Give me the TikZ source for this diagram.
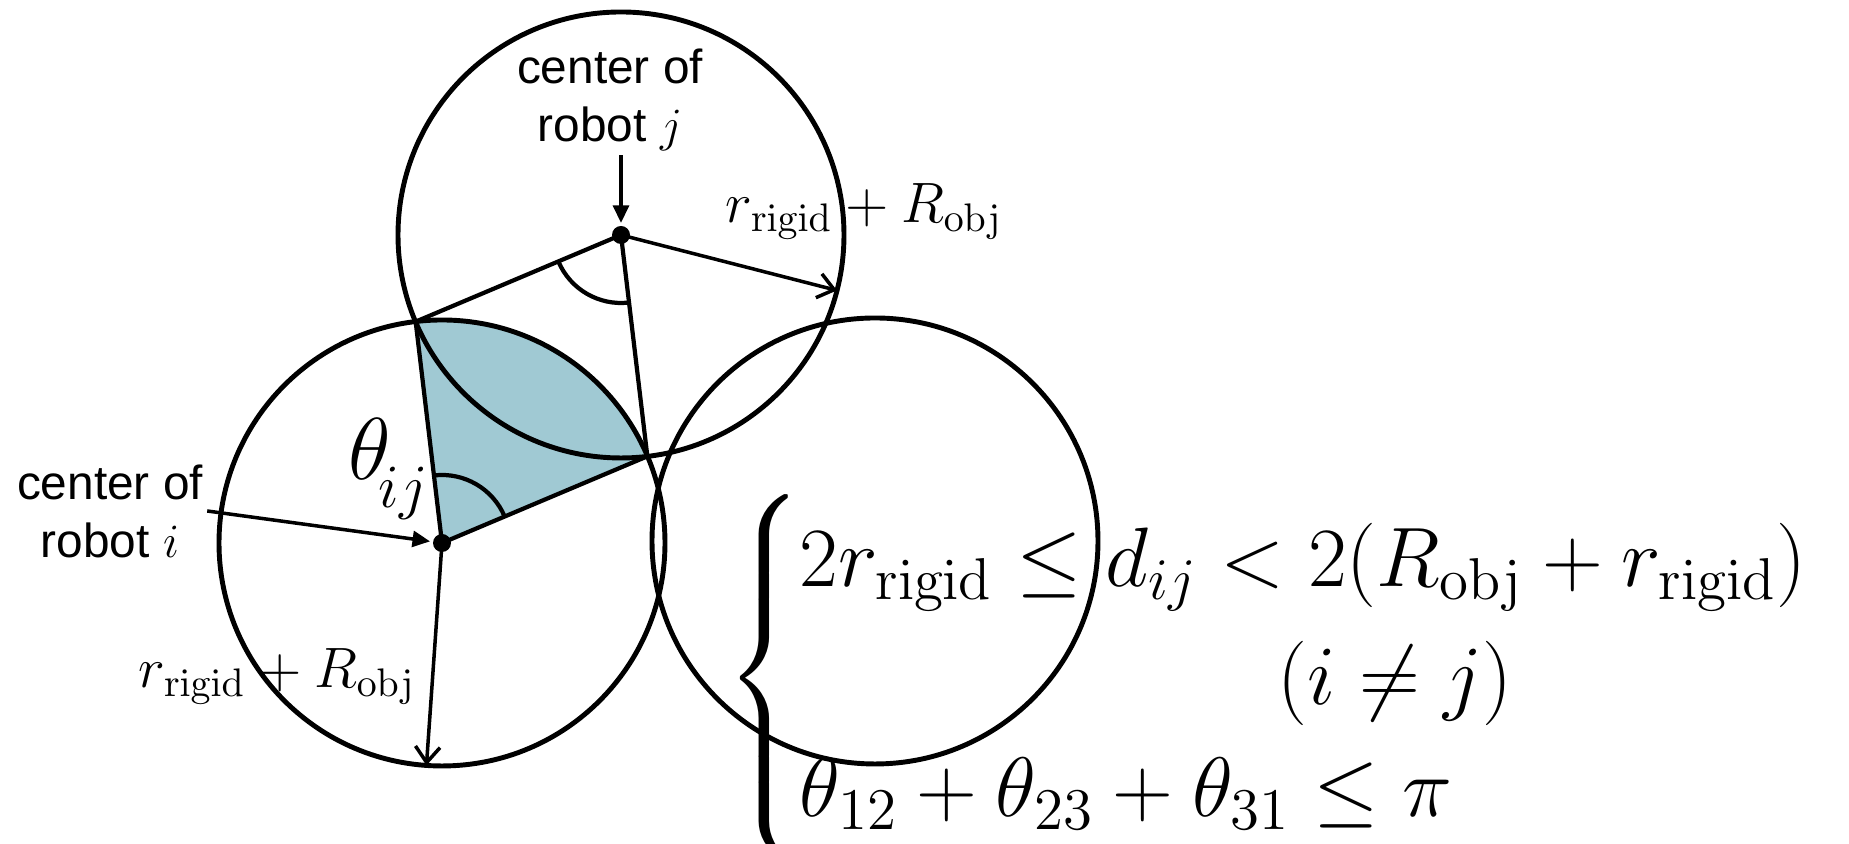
\documentclass[tikz,border=0pt]{standalone}
\usepackage{fix-cm}
\usepackage{amsmath,amssymb}
\usepackage{exscale}
\usepackage[no-math]{fontspec}
\newfontfamily\labelfont{Liberation Sans}
\usepackage{xcolor}
\usetikzlibrary{arrows.meta,positioning,calc,angles}
\definecolor{sector}{RGB}{160,201,211}

\begin{document}
\begin{tikzpicture}[>=Stealth,
  robot/.style={line width=1.4pt},
  pointer/.style={-{Triangle[length=5pt,width=4.5pt]}, line width=1pt},
  reach/.style={-{Straight Barb[length=4.5pt,width=7pt]}, line width=1pt},
  tag/.style={font=\labelfont\fontsize{13.6}{16.5}\selectfont, align=center, inner sep=1pt},
  len/.style={font=\fontsize{16.2}{19}\selectfont, inner sep=0pt},
  cond/.style={font=\fontsize{24}{29}\selectfont, inner sep=0pt}]
\useasboundingbox (0,0) rectangle (18.49,8.44);
\clip (0,0) rectangle (18.49,8.44);

% Robot centres
\coordinate (ci) at (4.42,3.01);
\coordinate (cj) at (6.21,6.09);
\coordinate (ck) at (8.75,3.03);

% Where circles i and j cross
\coordinate (mij) at ($(ci)!0.5!(cj)$);
\coordinate (pa) at ($(mij)!1.34cm!90:(cj)$);
\coordinate (pb) at ($(mij)!1.34cm!-90:(cj)$);

% Shaded sector of robot i
\begin{scope}
\clip (ci) -- ($(ci)!3!(pa)$) -- ($(ci)!3!(pb)$) -- cycle;
\fill[sector] (ci) circle (2.23);
\end{scope}

% Circles
\draw[robot] (ci) circle (2.23);
\draw[robot] (cj) circle (2.23);
\draw[robot] (ck) circle (2.23);

% Rhombus and angles
\draw[line width=1.2pt] (pa) -- (cj) -- (pb) -- (ci) -- cycle;
\pic[draw, line width=1.2pt, angle radius=0.68cm] {angle=pa--cj--pb};
\pic[draw, line width=1.2pt, angle radius=0.68cm] {angle=pb--ci--pa};

% Centre dots
\fill (ci) circle (0.09);
\fill (cj) circle (0.09);

% Radii
\coordinate (ri) at ($(ci)+(-94:2.23)$);
\coordinate (rj) at ($(cj)+(-14.4:2.23)$);
\draw[reach] (ci) -- (ri);
\draw[reach] (cj) -- (rj);

% Labels
\node[tag] (labi) at (1.1,3.33) {center of\\robot $i$};
\node[tag] (labj) at (6.1,7.44) {center of\\robot $j$};
\draw[pointer, shorten >=0.12cm] (labi.east) -- (ci);
\draw[pointer, shorten >=0.12cm] (labj.south -| cj) -- (cj);

\node[len, anchor=base] (lenj) at (8.64,6.21) {$r_{\mathrm{rigid}}+R_{\mathrm{obj}}$};
\node[len, anchor=base] (leni) at (2.77,1.56) {$r_{\mathrm{rigid}}+R_{\mathrm{obj}}$};
\node[font=\fontsize{25}{30}\selectfont, inner sep=0pt, anchor=base west] (theta) at (3.48,3.64) {$\theta_{\!\lower4pt\hbox{$\scriptstyle ij$}}$};

% Conditions
\node[cond, anchor=base west] (cond1) at (7.99,2.57) {$2r_{\mathrm{rigid}} \le d_{ij} < 2(R_{\mathrm{obj}}+r_{\mathrm{rigid}})$};
\node[cond, anchor=base] (cond2) at (13.95,1.39) {$(i \neq j)$};
\node[cond, anchor=base west] (cond3) at (7.99,0.27) {$\theta_{12}+\theta_{23}+\theta_{31} \le \pi$};
\node[cond] (brace) at (7.66,1.66) {$\left\{\vrule height 43pt depth 43pt width 0pt\right.$};
\end{tikzpicture}
\end{document}
